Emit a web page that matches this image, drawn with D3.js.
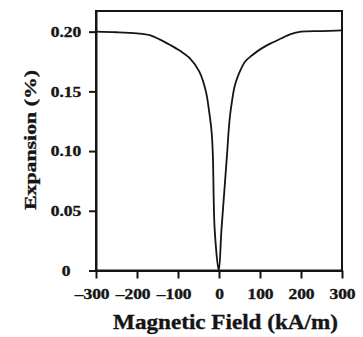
<!DOCTYPE html>
<html><head><meta charset="utf-8">
<script src="https://cdn.jsdelivr.net/npm/d3@7"></script>
<style>
html,body{margin:0;padding:0;background:#fff;}
svg{display:block;}
text{font-family:"Liberation Serif","Times New Roman",serif;font-weight:bold;fill:#151515;stroke:#151515;stroke-width:0.35px;}
</style></head>
<body>
<svg id="c" width="363" height="337"></svg>
<script>
const field = [-300, -250, -200, -169, -145, -120, -95, -72, -48, -32, -24, -18, -15, -10.5, -0.5,
               6, 19.6, 23.3, 27, 31.4, 38, 47.6, 63.8, 80, 104, 128, 153, 175, 200, 250, 300];
const expansion = [0.200, 0.1995, 0.1985, 0.197, 0.1935, 0.189, 0.184, 0.178, 0.1665, 0.150, 0.133, 0.116, 0.097, 0.034, 0,
                   0.034, 0.097, 0.116, 0.130, 0.141, 0.154, 0.164, 0.175, 0.180, 0.186, 0.1905, 0.1945, 0.198, 0.200, 0.2005, 0.201];
const xTicks = [-300, -200, -100, 0, 100, 200, 300];
const yTicks = [0, 0.05, 0.10, 0.15, 0.20];
const xTitle = "Magnetic Field (kA/m)";
const yTitle = "Expansion (%)";

const svg = d3.select("#c");
const L = 96, R = 342, T = 11, B = 270.5;
const x = d3.scaleLinear().domain([-300, 300]).range([L, R]);
const y = d3.scaleLinear().domain([0, 0.2173]).range([B, T]);
const ink = "#151515";

// frame
svg.append("rect").attr("x", L).attr("y", T).attr("width", R - L).attr("height", B - T)
  .attr("fill", "none").attr("stroke", ink).attr("stroke-width", 2);

// x axis
const gx = svg.append("g").attr("transform", `translate(0,${B})`)
  .call(d3.axisBottom(x).tickValues(xTicks).tickSize(8).tickSizeOuter(0)
    .tickFormat(d => d < 0 ? "\u2013" + Math.abs(d) : String(d)));
gx.select(".domain").attr("stroke", ink).attr("stroke-width", 2.2);
gx.selectAll(".tick line").attr("stroke", ink).attr("stroke-width", 2);
gx.selectAll(".tick text").attr("y", 29).attr("dy", 0)
  .attr("dx", d => d < 0 ? "-0.25em" : 0)
  .attr("font-size", 14).attr("font-family", null).attr("fill", ink)
  .attr("transform", "scale(1.25,1)");

// y axis
const gy = svg.append("g").attr("transform", `translate(${L},0)`)
  .call(d3.axisLeft(y).tickValues(yTicks).tickSize(7).tickSizeOuter(0)
    .tickFormat(d => d === 0 ? "0" : d3.format(".2f")(d)));
gy.select(".domain").attr("stroke", ink).attr("stroke-width", 2);
gy.selectAll(".tick line").attr("stroke", ink).attr("stroke-width", 2);
gy.selectAll(".tick text").attr("x", -30 / 1.25).attr("dy", "0.34em")
  .attr("text-anchor", "middle")
  .attr("font-size", 14).attr("font-family", null).attr("fill", ink)
  .attr("transform", "scale(1.25,1)");

// curve
const pts = field.map((f, i) => [f, expansion[i]]);
svg.append("path").datum(pts)
  .attr("fill", "none").attr("stroke", ink).attr("stroke-width", 1.8)
  .attr("stroke-linejoin", "round")
  .attr("d", d3.line().curve(d3.curveCatmullRom.alpha(0.5)).x(d => x(d[0])).y(d => y(d[1])));

// titles
function stretched(g, txt, size, width) {
  const t = g.append("text").attr("text-anchor", "middle").attr("font-size", size).text(txt);
  const w = t.node().getComputedTextLength();
  t.attr("transform", `scale(${width / w},1)`);
}
stretched(svg.append("g").attr("transform", "translate(225.5,329)"), xTitle, 21, 225);
stretched(svg.append("g").attr("transform", "translate(36,140) rotate(-90)"), yTitle, 17.5, 140);
</script>
</body></html>
